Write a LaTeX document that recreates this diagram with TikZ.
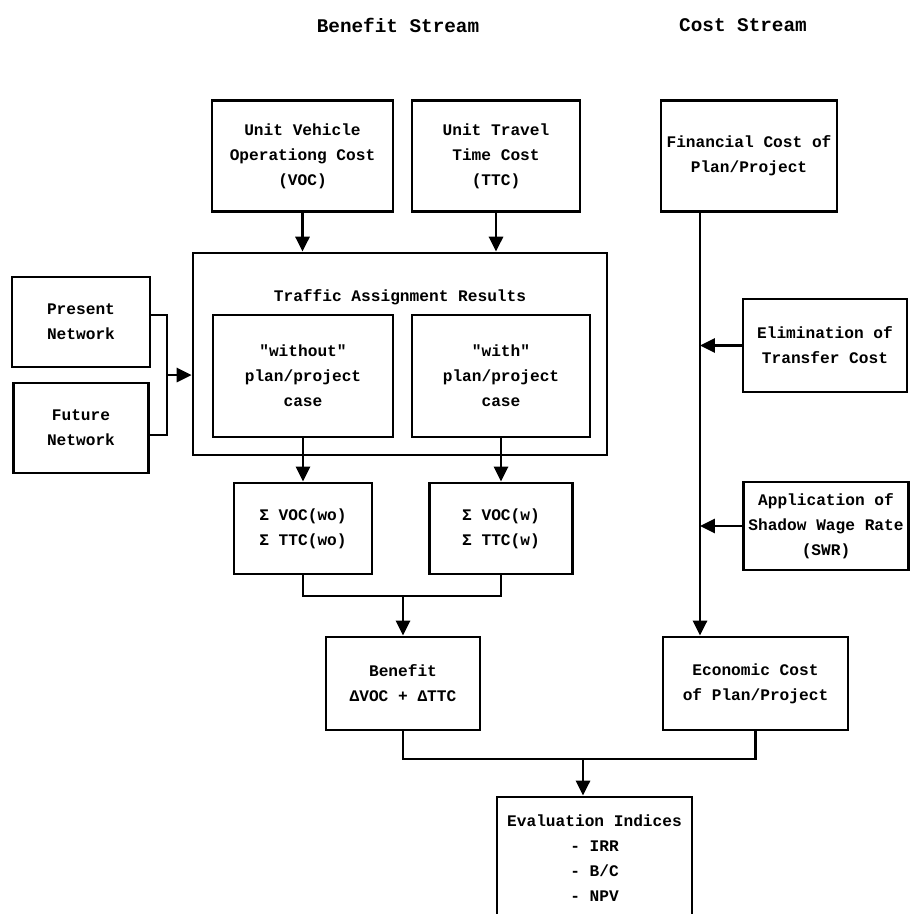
\documentclass[tikz,border=0pt]{standalone}
\usepackage{fontspec}
\setmonofont{Liberation Mono}
\usepackage{tikz}
\usetikzlibrary{positioning, arrows.meta, calc}

\begin{document}
\begin{tikzpicture}[
            x=0.02cm, y=-0.02cm,
            font=\ttfamily\bfseries\fontsize{9.2}{14.2}\selectfont,
            box/.style={draw, line width=1.6pt, align=center, inner sep=0pt},
            heading/.style={font=\ttfamily\bfseries\fontsize{11}{14}\selectfont},
            link/.style={line width=1.5pt},
            arr/.style={line width=1.5pt, -{Triangle[length=8.5pt, width=8pt]}},
        ]
            \useasboundingbox (0,0) rectangle (910,914);

            % column headings
            \node[heading] (bs) at (398,25) {Benefit Stream};
            \node[heading] (cs) at (743,25) {Cost Stream};

            % unit costs
            \node[box, minimum width=3.62cm, minimum height=2.22cm] (voc) at (302.5,156) {Unit Vehicle\\Operationg Cost\\(VOC)};
            \node[box, minimum width=3.36cm, minimum height=2.22cm] (ttc) at (496,156) {Unit Travel\\Time Cost\\(TTC)};
            \node[box, minimum width=3.52cm, minimum height=2.22cm] (fin) at (749,156) {Financial Cost of\\Plan/Project};

            % traffic assignment
            \node[box, minimum width=8.28cm, minimum height=4.04cm] (tar) at (400,354) {};
            \node (tart) at (400,297) {Traffic Assignment Results};
            \node[box, minimum width=3.6cm, minimum height=2.44cm] (wo) at (303,376) {"without"\\plan/project\\case};
            \node[box, minimum width=3.56cm, minimum height=2.44cm] (wi) at (501,376) {"with"\\plan/project\\case};

            % networks
            \node[box, minimum width=2.76cm, minimum height=1.8cm] (pres) at (81,322) {Present\\Network};
            \node[box, minimum width=2.7cm, minimum height=1.8cm] (fut) at (81,428) {Future\\Network};

            % sums
            \node[box, minimum width=2.76cm, minimum height=1.82cm] (swo) at (303,528.5) {Σ VOC(wo)\\Σ TTC(wo)};
            \node[box, minimum width=2.86cm, minimum height=1.82cm] (sw) at (501,528.5) {Σ VOC(w)\\Σ TTC(w)};

            % cost adjustments
            \node[box, minimum width=3.28cm, minimum height=1.86cm] (eli) at (825,345.5) {Elimination of\\Transfer Cost};
            \node[box, minimum width=3.3cm, minimum height=1.76cm] (swr) at (826,526) {Application of\\Shadow Wage Rate\\(SWR)};

            % results
            \node[box, minimum width=3.08cm, minimum height=1.86cm] (ben) at (403,683.5) {Benefit\\ΔVOC + ΔTTC};
            \node[box, minimum width=3.7cm, minimum height=1.86cm] (eco) at (755.5,683.5) {Economic Cost\\of Plan/Project};
            \node[box, minimum width=3.9cm, minimum height=2.46cm] (eva) at (594.5,858.5) {Evaluation Indices\\- IRR\\- B/C\\- NPV};

            % junctions
            \coordinate (nj) at (167,375);
            \coordinate (fl) at (700,0);
            \coordinate (bj) at (403,596);
            \coordinate (ej) at (583,759);

            % benefit stream
            \draw[arr] (voc.south) -- (voc.south |- tar.north);
            \draw[arr] (ttc.south) -- (ttc.south |- tar.north);
            \draw[link] ([yshift=0.14cm]pres.east) -| (nj) |- ([yshift=-0.14cm]fut.east);
            \draw[arr] (nj) -- (nj -| tar.west);
            \draw[arr] (wo.south) -- (swo.north);
            \draw[arr] (wi.south) -- (sw.north);
            \draw[link] (swo.south) |- (bj) -| (sw.south);
            \draw[arr] (bj) -- (ben.north);

            % cost stream
            \draw[arr] (fin.south -| fl) -- (eco.north -| fl);
            \draw[arr] (eli.west) -- (eli.west -| fl);
            \draw[arr] (swr.west) -- (swr.west -| fl);

            % evaluation
            \draw[link] (ben.south) |- (ej) -| (eco.south);
            \draw[arr] (ej) -- (ej |- eva.north);
        \end{tikzpicture}
\end{document}
